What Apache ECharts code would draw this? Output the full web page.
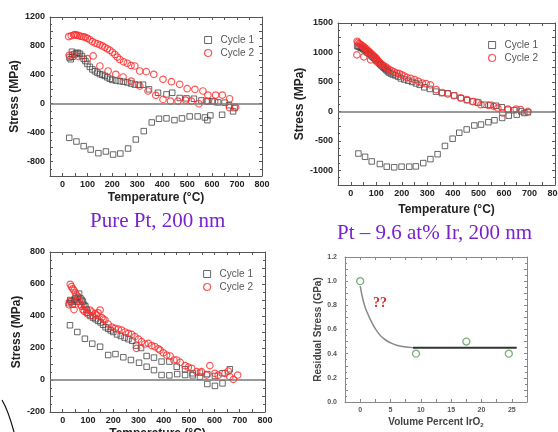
<!DOCTYPE html>
<html>
<head>
<meta charset="utf-8">
<script src="https://cdn.jsdelivr.net/npm/echarts@6/dist/echarts.min.js"></script>
<style>html,body{margin:0;background:#fff}#main{width:558px;height:432px}</style>
</head>
<body>
<div id="main"></div>
<script>
// Pure Pt, 200 nm  [temperature C, stress MPa]
var ptCycle1 = [[27,-472],[56,-523],[85,-587],[113,-634],[144,-684],[174,-661],[203,-703],[232,-689],[263,-620],[294,-495],[326,-379],[358,-259],[387,-208],[417,-203],[449,-227],[479,-203],[510,-176],[542,-176],[571,-190],[581,-227],[593,-162],[640,-153],[684,-106],
  [690,-60],[668,-20],[650,15],[624,18],[600,35],[583,32],[557,46],[527,69],[497,74],[470,79],[440,152],[417,129],[383,152],[347,199],[323,263],[305,262],[290,265],[275,280],[260,295],[245,305],[230,312],[215,320],[200,330],[190,345],[180,365],[170,385],[160,400],[150,410],[140,430],[130,450],[120,475],[110,510],[100,550],[92,590],[85,620],[78,660],[70,690],[62,705],[55,700],[48,680],[40,650],[33,615],[28,640],[38,720]];
var ptCycle2 = [[25,929],[35,940],[45,950],[50,958],[55,950],[62,945],[70,935],[78,930],[85,925],[92,918],[100,905],[110,885],[120,860],[130,840],[140,830],[150,815],[160,800],[170,780],[180,760],[190,740],[200,712],[210,682],[220,645],[230,612],[245,580],[260,560],[275,530],[290,522],[310,453],[336,444],[366,407],[403,338],[437,305],[470,268],[500,208],[531,199],[563,176],[583,120],[614,120],[641,120],[670,69],[694,-46],
  [27,670],[40,680],[65,652],[100,624],[123,661],[150,522],[183,453],[214,407],[243,370],[276,314],[310,245],[343,176],[374,116],[403,60],[433,37],[463,37],[494,51],[517,37],[547,0],[577,37],[610,30],[670,-55]];

// Pt - 9.6 at% Ir, 200 nm
var irCycle1 = [[30,-716],[56,-771],[82,-850],[114,-894],[141,-939],[170,-950],[199,-939],[229,-939],[255,-934],[284,-878],[312,-811],[340,-727],[369,-587],[399,-464],[425,-363],[454,-307],[484,-240],[510,-224],[539,-184],[563,-151],[593,-112],[619,-73],[650,-56],[680,-28],
  [25,1110],[30,1100],[35,1090],[40,1080],[45,1070],[50,1055],[55,1040],[60,1020],[65,1000],[70,985],[75,970],[80,950],[85,930],[90,910],[95,890],[100,870],[105,850],[110,820],[115,800],[120,780],[125,760],[130,740],[135,720],[140,700],[145,680],[150,660],[157,643],[165,625],[175,610],[185,590],[196,559],[210,540],[225,520],[240,500],[255,475],[270,450],[288,408],[310,380],[334,335],[357,310],[380,307],[405,270],[432,224],[455,190],[478,168],[500,150],[524,112],[547,110],[569,95],[592,70],[615,28],[640,20],[668,0],[694,-17]];
var irCycle2 = [[25,1190],[28,1170],[32,1150],[36,1140],[40,1130],[45,1110],[50,1100],[55,1080],[60,1060],[65,1040],[70,1020],[75,1000],[80,980],[85,960],[90,940],[95,920],[100,900],[105,870],[110,845],[115,820],[120,800],[127,780],[135,760],[143,735],[150,710],[160,690],[170,670],[180,650],[190,640],[200,620],[210,600],[220,575],[235,560],[250,540],[265,510],[280,480],[295,470],[312,450],[335,370],[358,320],[380,295],[405,265],[430,230],[455,200],[478,165],[495,151],[510,112],[540,100],[560,85],[576,56],[595,-28],[615,39],[648,39],[665,30],[694,0],
  [24,959],[51,926],[78,875],[100,850]];

// third film
var filmCycle1 = [[29,342],[58,300],[88,258],[117,227],[148,208],[180,156],[209,162],[240,142],[270,125],[302,108],[332,83],[361,62],[391,31],[422,29],[453,37],[484,31],[514,29],[543,21],[572,-25],[602,-37],[632,-21],
  [25,480],[30,500],[35,490],[40,470],[45,500],[50,510],[55,490],[60,520],[65,540],[70,510],[75,500],[80,490],[85,470],[90,460],[95,440],[100,420],[110,400],[120,390],[130,380],[140,370],[150,360],[160,345],[170,330],[180,320],[190,310],[200,300],[215,285],[230,275],[245,265],[260,255],[275,245],[290,215],[310,200],[332,150],[361,140],[391,115],[422,115],[451,83],[484,67],[514,42],[543,46],[572,37],[602,25],[632,42],[661,67]];
var filmCycle2 = [[25,470],[28,490],[30,598],[35,583],[40,570],[45,560],[50,545],[55,530],[45,440],[60,510],[65,490],[70,470],[75,460],[80,440],[85,430],[95,420],[100,410],[108,437],[115,425],[120,400],[128,415],[134,406],[140,420],[148,437],[155,390],[160,380],[167,375],[180,350],[195,330],[207,323],[220,318],[233,312],[247,300],[260,292],[273,285],[286,271],[292,198],[300,255],[312,240],[325,225],[339,229],[352,215],[365,208],[378,195],[385,187],[398,170],[411,156],[425,150],[440,125],[451,125],[465,110],[484,90],[497,80],[510,73],[530,52],[549,52],[569,31],[582,90],[602,42],[615,30],[642,42],[655,55],[661,21],[675,4],[692,31]];

// residual stress vs IrO2 content
var iroxPoints = [[0,1.0],[9.2,0.4],[17.5,0.5],[24.5,0.4]];
var iroxCurve = [[0,0.96],[0.5,0.84],[1,0.76],[2,0.65],[3,0.57],[4,0.52],[5,0.49],[6,0.47],[7,0.46],[8.7,0.45]];
var iroxFlat = [[8.7,0.45],[25.8,0.45]];

var chart = echarts.init(document.getElementById('main'));
var xAxis = [], yAxis = [], series = [];

function addAxes(gi, xo, yo, st) {
  [false, true].forEach(function (mirror) {
    xAxis.push({
      gridIndex: gi, type: 'value', min: xo.min, max: xo.max, interval: xo.interval,
      position: mirror ? 'top' : 'bottom',
      name: mirror ? '' : xo.name, nameLocation: 'middle', nameGap: xo.nameGap,
      nameTextStyle: st.name,
      axisLine: {show: true, onZero: false, lineStyle: {color: st.line, width: 1}},
      axisTick: {show: true, inside: true, length: 3, lineStyle: {color: st.line}},
      axisLabel: Object.assign({show: !mirror, margin: xo.margin, formatter: xo.fmt}, st.tick),
      splitLine: {show: false}
    });
    yAxis.push({
      gridIndex: gi, type: 'value', min: yo.min, max: yo.max, interval: yo.interval,
      position: mirror ? 'right' : 'left',
      name: mirror ? '' : yo.name, nameLocation: 'middle', nameGap: yo.nameGap,
      nameTextStyle: st.name,
      axisLine: {show: true, onZero: false, lineStyle: {color: st.line, width: 1}},
      axisTick: {show: true, inside: true, length: 3, lineStyle: {color: st.line}},
      minorTick: {show: true, splitNumber: 2, length: 2, lineStyle: {color: st.line}},
      axisLabel: Object.assign({show: !mirror, margin: yo.margin, formatter: yo.fmt}, st.tick),
      splitLine: {show: false}
    });
  });
}

var tempStyle = {
  line: '#555',
  tick: {fontFamily: 'Liberation Sans', fontWeight: 'bold', fontSize: 9, color: '#222'},
  name: {fontFamily: 'Liberation Sans', fontWeight: 'bold', fontSize: 12, color: '#222'}
};
var smallStyle = {
  line: '#888',
  tick: {fontFamily: 'Liberation Sans', fontWeight: 'bold', fontSize: 7, color: '#555'},
  name: {fontFamily: 'Liberation Sans', fontWeight: 'bold', fontSize: 10, color: '#444',
    rich: {sub: {fontFamily: 'Liberation Sans', fontWeight: 'bold', fontSize: 6, color: '#444', padding: [6, 0, 0, 0]}}}
};
var tempX = function (v) { return (v >= 0 && v % 100 === 0) ? v : ''; };

addAxes(0, {min: -50, max: 800, interval: 50, fmt: tempX, name: 'Temperature (°C)', nameGap: 16, margin: 4},
  {min: -1000, max: 1200, interval: 200, fmt: function (v) { return (v >= -800 && (v + 800) % 400 === 0) ? v : ''; }, name: 'Stress (MPa)', nameGap: 26, margin: 5}, tempStyle);
addAxes(1, {min: -50, max: 800, interval: 50, fmt: tempX, name: 'Temperature (°C)', nameGap: 19, margin: 4},
  {min: -1250, max: 1500, interval: 250, fmt: function (v) { return v % 500 === 0 ? v : ''; }, name: 'Stress (MPa)', nameGap: 27, margin: 5}, tempStyle);
addAxes(2, {min: -50, max: 800, interval: 50, fmt: tempX, name: 'Temperature (°C)', nameGap: 16, margin: 4},
  {min: -200, max: 800, interval: 100, fmt: function (v) { return v % 200 === 0 ? v : ''; }, name: 'Stress (MPa)', nameGap: 25, margin: 5}, tempStyle);
addAxes(3, {min: -2.5, max: 27.5, interval: 2.5, fmt: function (v) { return (v >= 0 && v % 5 === 0) ? v : ''; }, name: 'Volume Percent IrO{sub|2}', nameGap: 14, margin: 5},
  {min: 0, max: 1.2, interval: 0.1, fmt: function (v) { return Math.round(v * 10) % 2 === 0 ? v.toFixed(1) : ''; }, name: 'Residual Stress (GPa)', nameGap: 21, margin: 8}, smallStyle);

var sq = {color: 'rgba(0,0,0,0)', borderColor: '#444', borderWidth: 1};
var ci = {color: 'rgba(0,0,0,0)', borderColor: '#ff2a2a', borderWidth: 1.2};
var zeroLine = {silent: true, symbol: 'none', label: {show: false}, lineStyle: {color: '#777', width: 1.5, type: 'solid'}, data: [{yAxis: 0}]};

[[ptCycle1, ptCycle2], [irCycle1, irCycle2], [filmCycle1, filmCycle2]].forEach(function (d, gi) {
  series.push({name: 'Cycle 1', type: 'scatter', xAxisIndex: gi * 2, yAxisIndex: gi * 2, data: d[0],
    symbol: 'rect', symbolSize: 5.5, itemStyle: sq, markLine: zeroLine});
  series.push({name: 'Cycle 2', type: 'scatter', xAxisIndex: gi * 2, yAxisIndex: gi * 2, data: d[1],
    symbol: 'circle', symbolSize: 6.5, itemStyle: ci});
});
series.push({name: 'fit', type: 'line', xAxisIndex: 6, yAxisIndex: 6, data: iroxCurve, smooth: true, showSymbol: false,
  lineStyle: {color: '#888', width: 1.5}});
series.push({name: 'plateau', type: 'line', xAxisIndex: 6, yAxisIndex: 6, data: iroxFlat, showSymbol: false,
  lineStyle: {color: '#333', width: 2}});
series.push({name: 'IrO2', type: 'scatter', xAxisIndex: 6, yAxisIndex: 6, data: iroxPoints, symbol: 'circle', symbolSize: 7,
  itemStyle: {color: 'rgba(0,0,0,0)', borderColor: '#5a9a5a', borderWidth: 1.3}});

function legendAt(left, top) {
  return {
    left: left, top: top, orient: 'vertical', itemWidth: 7, itemHeight: 7, itemGap: 3, selectedMode: false,
    textStyle: {fontFamily: 'Liberation Sans', fontSize: 10, color: '#555', padding: [0, 0, 0, 4]},
    data: [
      {name: 'Cycle 1', icon: 'rect', itemStyle: sq},
      {name: 'Cycle 2', icon: 'circle', itemStyle: ci}
    ]
  };
}

var title = {fontFamily: 'Liberation Serif', fontSize: 21, fill: '#7a22d0'};

chart.setOption({
  animation: false,
  grid: [
    {left: 50, top: 17, width: 212, height: 159, outerBoundsMode: 'none'},
    {left: 338, top: 23, width: 217, height: 162, outerBoundsMode: 'none'},
    {left: 50, top: 252, width: 215, height: 160, outerBoundsMode: 'none'},
    {left: 345, top: 257, width: 182, height: 145, outerBoundsMode: 'none'}
  ],
  xAxis: xAxis,
  yAxis: yAxis,
  legend: [legendAt(199, 30), legendAt(483, 35), legendAt(198, 264)],
  series: series,
  graphic: [
    {type: 'text', left: 90, top: 211, style: Object.assign({text: 'Pure Pt, 200 nm'}, title)},
    {type: 'text', left: 337, top: 223, style: Object.assign({text: 'Pt – 9.6 at% Ir, 200 nm'}, title)},
    {type: 'text', left: 373, top: 296, style: {text: '??', fontFamily: 'Liberation Serif', fontWeight: 'bold', fontSize: 14, fill: '#d03030'}},
    {type: 'bezierCurve', shape: {x1: 2, y1: 400, cpx1: 8, cpy1: 410, x2: 14, y2: 432}, style: {stroke: '#111', lineWidth: 1.2, fill: null}}
  ]
});
</script>
</body>
</html>
